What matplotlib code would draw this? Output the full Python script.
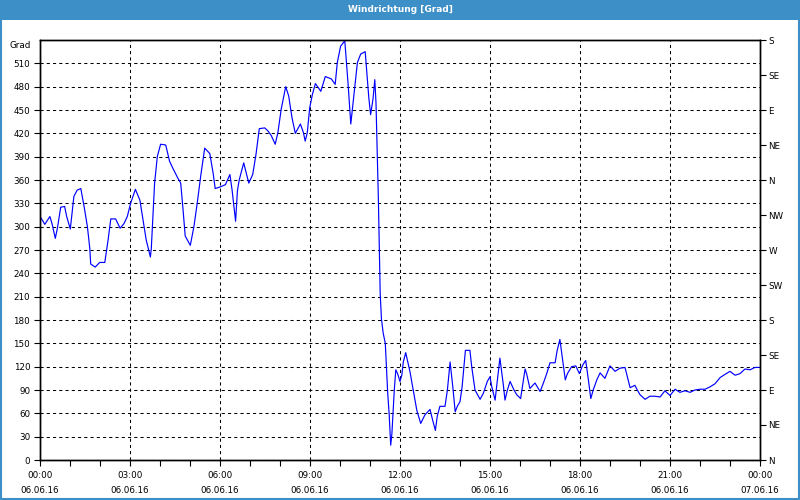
import matplotlib
matplotlib.use("Agg")
import matplotlib.pyplot as plt
import matplotlib.dates as mdates
import matplotlib.transforms as mtransforms
from matplotlib.patches import Rectangle
import pandas as pd

# Stunden seit 06.06.16 00:00 und Windrichtung in Grad (aus dem Bild gelesen)
stunden = [
    0.02, 0.16, 0.33, 0.40, 0.51, 0.58, 0.69, 0.82, 0.89, 1.01, 1.13, 1.24, 1.36,
    1.47, 1.58, 1.66, 1.69, 1.84, 1.99, 2.16, 2.27, 2.36, 2.52, 2.67, 2.80, 2.91,
    3.02, 3.18, 3.33, 3.47, 3.54, 3.68, 3.71, 3.82, 3.91, 4.02, 4.19, 4.32, 4.43,
    4.60, 4.69, 4.77, 4.84, 5.01, 5.13, 5.24, 5.36, 5.49, 5.66, 5.77, 5.84, 6.00,
    6.18, 6.33, 6.40, 6.52, 6.58, 6.64, 6.79, 6.96, 7.09, 7.20, 7.31, 7.49, 7.60,
    7.71, 7.84, 7.93, 8.04, 8.19, 8.29, 8.40, 8.51, 8.68, 8.78, 8.84, 8.91, 8.99,
    9.08, 9.18, 9.36, 9.51, 9.71, 9.84, 9.91, 10.02, 10.16, 10.27, 10.36, 10.47,
    10.58, 10.69, 10.84, 10.96, 11.02, 11.10, 11.16, 11.20, 11.24, 11.28, 11.31,
    11.34, 11.38, 11.44, 11.51, 11.56, 11.59, 11.64, 11.69, 11.73, 11.78, 11.81,
    11.86, 11.92, 12.00, 12.06, 12.11, 12.19, 12.26, 12.33, 12.44, 12.56, 12.69,
    12.83, 13.00, 13.09, 13.18, 13.24, 13.33, 13.50, 13.58, 13.67, 13.76, 13.84,
    13.91, 14.00, 14.07, 14.18, 14.33, 14.39, 14.50, 14.67, 14.78, 14.91, 15.00,
    15.06, 15.17, 15.26, 15.33, 15.44, 15.50, 15.58, 15.67, 15.80, 15.89, 16.02,
    16.17, 16.22, 16.33, 16.50, 16.67, 16.78, 16.89, 17.00, 17.17, 17.24, 17.33,
    17.42, 17.51, 17.58, 17.72, 17.86, 17.98, 18.09, 18.19, 18.28, 18.36, 18.44,
    18.56, 18.67, 18.83, 19.00, 19.17, 19.33, 19.50, 19.67, 19.83, 19.91, 20.00,
    20.17, 20.33, 20.50, 20.67, 20.83, 21.00, 21.17, 21.33, 21.50, 21.67, 21.83,
    22.00, 22.17, 22.33, 22.50, 22.67, 22.83, 23.00, 23.17, 23.33, 23.50, 23.67,
    23.83, 23.98,
]
grad = [
    312, 303, 313, 304, 285, 298, 325, 326, 313, 297, 339, 347, 349,
    326, 300, 272, 252, 248, 254, 254, 283, 310, 310, 298, 304, 313,
    330, 348, 334, 300, 283, 261, 272, 356, 390, 406, 405, 384, 375,
    362, 356, 321, 288, 276, 300, 330, 366, 401, 394, 369, 349, 351,
    354, 367, 348, 307, 346, 360, 382, 356, 367, 393, 426, 427, 423,
    417, 406, 421, 451, 480, 468, 440, 420, 432, 421, 410, 421, 453,
    470, 484, 474, 493, 490, 483, 511, 532, 539, 483, 432, 472,
    511, 522, 525, 466, 444, 464, 489, 459, 397, 334, 274,
    214, 182, 163, 150, 111, 86, 58, 19, 34, 69, 90,
    116, 111, 101, 109, 126, 138, 126, 114, 90, 64, 47,
    58, 65, 51, 38, 56, 69, 69, 90, 126, 94, 62,
    69, 75, 94, 141, 141, 120, 90, 78, 86, 101, 107,
    94, 77, 107, 131, 98, 77, 90, 101, 90, 84, 79,
    117, 111, 92, 99, 88, 99, 111, 125, 125, 141, 155,
    129, 103, 111, 120, 121, 111, 122, 128, 103, 79, 90,
    103, 112, 105, 121, 114, 118, 119, 93, 96, 90, 84,
    78, 82, 82, 81, 89, 83, 91, 87, 89, 87, 90,
    91, 91, 94, 98, 106, 110, 114, 109, 111, 117, 116,
    119, 119,
]

grad_ticks = list(range(0, 511, 30))
himmel_ticks = list(range(0, 541, 45))
himmel_labels = ["N", "NE", "E", "SE", "S", "SW", "W", "NW", "N", "NE", "E", "SE", "S"]

zeit = pd.Timestamp("2016-06-06") + pd.to_timedelta(stunden, unit="h")
start = pd.Timestamp("2016-06-06")
ende = pd.Timestamp("2016-06-07")

blau = "#3d8fc7"
plt.rcParams["font.family"] = ["DejaVu Sans"]
plt.rcParams["font.size"] = 6.3

fig = plt.figure(figsize=(8, 5), dpi=100, facecolor="white")
ax = fig.add_axes([0.05, 0.08, 0.90, 0.84])

ax.plot(zeit, grad, color="#0000ff", linewidth=0.85)

ax.set_xlim(start, ende)
ax.set_ylim(0, 540)
ax.set_yticks(grad_ticks)
ax.xaxis.set_major_locator(mdates.HourLocator(byhour=range(0, 24, 3)))
ax.xaxis.set_minor_locator(mdates.HourLocator())
ax.xaxis.set_major_formatter(mdates.DateFormatter("%H:%M\n%d.%m.%y"))
for lab in ax.get_xticklabels():
    lab.set_linespacing(1.85)
ax.tick_params(axis="x", which="both", length=4, width=0.8, pad=4, colors="black")
ax.tick_params(axis="y", length=4, width=0.8, pad=3)

ax.grid(True, color="black", linestyle=(0, (3, 3)), linewidth=0.75)
for s in ax.spines.values():
    s.set_linewidth(1.0)

trans = mtransforms.blended_transform_factory(ax.transAxes, ax.transData)
ax.text(-0.012, 533, "Grad", transform=trans, ha="right", va="center")

ax2 = ax.twinx()
ax2.set_ylim(0, 540)
ax2.set_yticks(himmel_ticks)
ax2.set_yticklabels(himmel_labels)
ax2.tick_params(axis="y", length=4, width=0.8, pad=2)
for s in ax2.spines.values():
    s.set_linewidth(1.0)

# Titelleiste
fig.patches.append(Rectangle((0, 0.96), 1, 0.04, transform=fig.transFigure,
                             facecolor=blau, edgecolor="none"))
fig.patches.append(Rectangle((0.001, 0.002), 0.998, 0.996, transform=fig.transFigure,
                             facecolor="none", edgecolor=blau, linewidth=1.5))
fig.text(0.5, 0.981, "Windrichtung [Grad]", color="white", fontweight="bold",
         ha="center", va="center", fontsize=6.5)

fig.savefig("out.png", dpi=100, facecolor="white")
